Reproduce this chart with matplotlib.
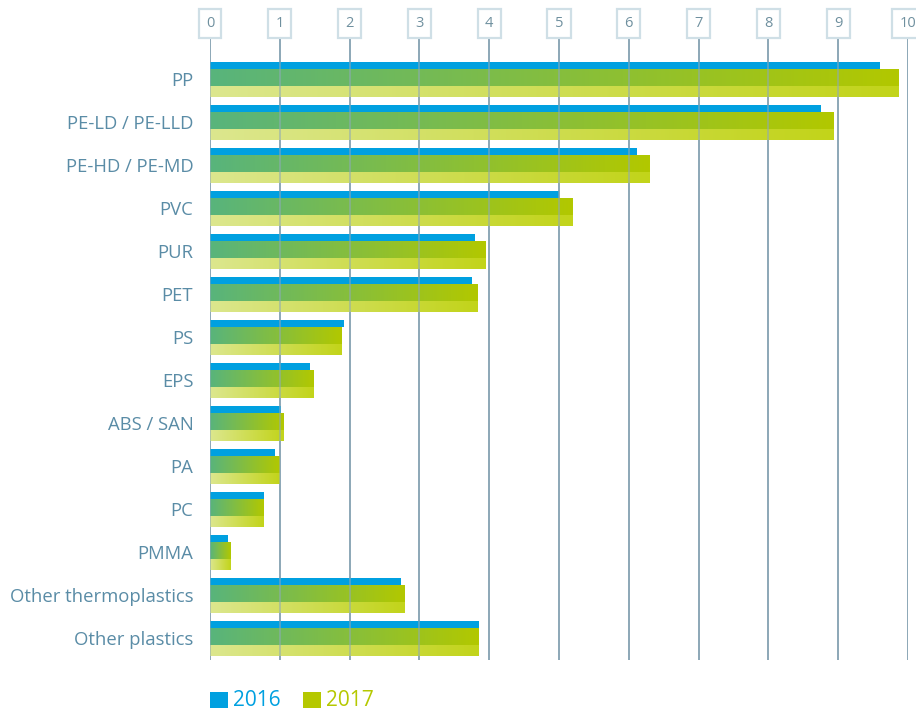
import numpy as np
import matplotlib
matplotlib.use("Agg")
import matplotlib.pyplot as plt
from matplotlib.colors import to_rgb
from matplotlib.patches import Rectangle

plt.rcParams['font.family'] = ['Open Sans', 'DejaVu Sans']

# Data
categories = ["PP", "PE-LD / PE-LLD", "PE-HD / PE-MD", "PVC", "PUR", "PET", "PS",
              "EPS", "ABS / SAN", "PA", "PC", "PMMA", "Other thermoplastics", "Other plastics"]
values_2016 = [9.6, 8.75, 6.12, 5.0, 3.8, 3.75, 1.92, 1.43, 1.02, 0.93, 0.77, 0.26, 2.74, 3.85]
values_2017 = [9.86, 8.93, 6.3, 5.19, 3.95, 3.83, 1.89, 1.48, 1.05, 0.99, 0.77, 0.29, 2.78, 3.85]
xticks = list(range(0, 11))

blue = "#00a0e0"
grid_col = "#8ea9b8"
label_col = "#5a8ca6"


def gradient(c1, c2, n=200):
    a = np.array(to_rgb(c1))
    b = np.array(to_rgb(c2))
    t = np.linspace(0, 1, n)[:, None]
    return (a + (b - a) * t)[None, :, :]


dark_grad = gradient("#58b47c", "#b2c800")
light_grad = gradient("#dce78e", "#c2d41a")

fig = plt.figure(figsize=(9.16, 7.15), dpi=100)
ax = fig.add_axes([210 / 916, 1 - 660 / 715, 698 / 916, (660 - 38) / 715])

for i, (v16, v17) in enumerate(zip(values_2016, values_2017)):
    # 2016 thin bar on top
    ax.add_patch(Rectangle((0, i - 0.407), v16, 0.163, facecolor=blue, edgecolor="none", zorder=2))
    # 2017 bar: dark gradient upper part, light gradient lower part
    ax.imshow(dark_grad, extent=[0, v17, i + 0.17, i - 0.244], aspect="auto", zorder=2,
              interpolation="bilinear")
    ax.imshow(light_grad, extent=[0, v17, i + 0.407, i + 0.17], aspect="auto", zorder=2,
              interpolation="bilinear")

ax.set_xlim(0, 10)
ax.set_ylim(len(categories) - 0.5, -0.965)

# vertical grid lines with boxed labels on top
for x in xticks:
    ax.axvline(x, color=grid_col, lw=1.4, alpha=0.55, zorder=3)
    ax.axvline(x, color=grid_col, lw=1.4, zorder=1)
    ax.text(x, 1.023, str(x), transform=ax.get_xaxis_transform(), ha="center", va="center",
            fontsize=10.5, color="#6f909f", clip_on=False,
            bbox=dict(boxstyle="square,pad=0.5", facecolor="white", edgecolor="#cfdfe6", lw=1.6))

for s in ax.spines.values():
    s.set_visible(False)
ax.set_xticks([])
ax.set_yticks(range(len(categories)))
ax.set_yticklabels(categories, fontsize=13.3, color=label_col)
ax.tick_params(axis="y", length=0, pad=12)

# legend
fig.patches.append(Rectangle((210 / 916, 1 - 708 / 715), 18 / 916, 16 / 715,
                             transform=fig.transFigure, facecolor=blue, edgecolor="none"))
fig.text(233 / 916, 1 - 701 / 715, "2016", color=blue, fontsize=15, va="center")
fig.patches.append(Rectangle((303 / 916, 1 - 708 / 715), 18 / 916, 16 / 715,
                             transform=fig.transFigure, facecolor="#b5c800", edgecolor="none"))
fig.text(326 / 916, 1 - 701 / 715, "2017", color="#b5c800", fontsize=15, va="center")

fig.savefig("out.png", dpi=100)
